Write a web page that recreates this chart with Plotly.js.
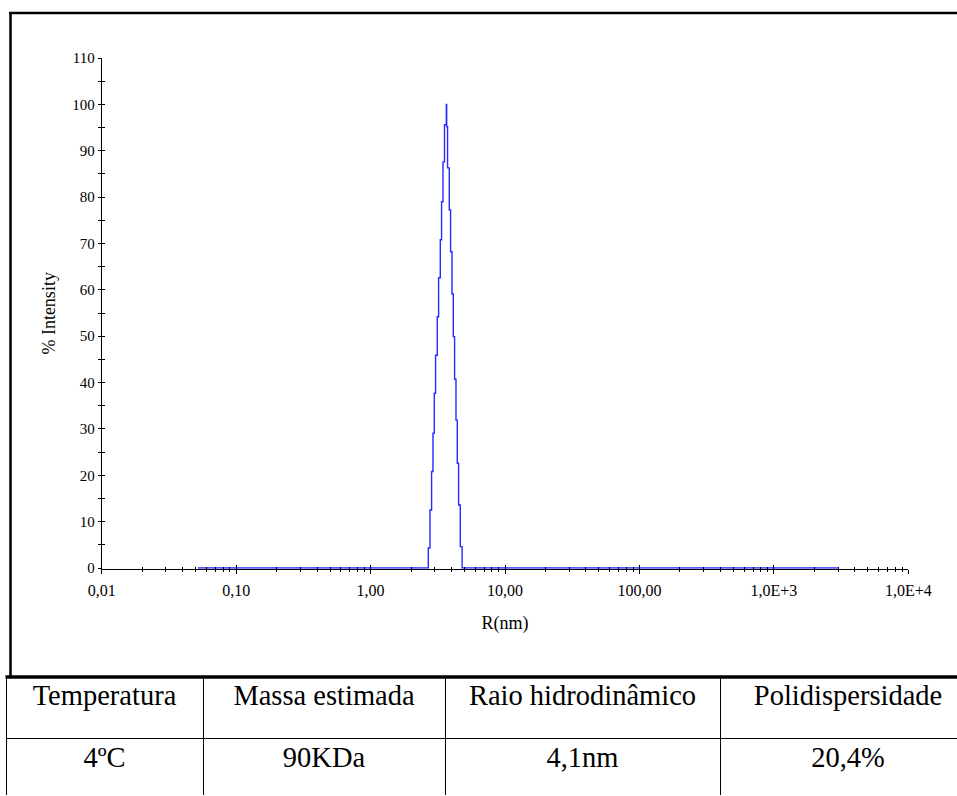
<!DOCTYPE html>
<html>
<head>
<meta charset="utf-8">
<script src="https://cdn.plot.ly/plotly-3.0.1.min.js"></script>
<style>
html, body { margin:0; padding:0; overflow:hidden; background:#fff; width:957px; height:796px; }
#chart { width:990px; height:796px; }
</style>
</head>
<body>
<div id="chart"></div>
<script>
// ---- data ----
const radiusNm = [0.052, 2.688, 2.767, 2.844, 2.912, 2.978, 3.045, 3.135, 3.206, 3.301, 3.375, 3.457, 3.547, 3.658,
                  3.683, 3.740, 3.851, 3.937, 4.034, 4.124, 4.217, 4.319, 4.417, 4.517, 4.650, 4.796, 3035];
const intensityPct = [0, 4.3, 12.5, 20.8, 29.1, 37.7, 45.9, 54.2, 62.6, 70.8, 79.0, 87.6, 95.6, 100,
                      95.2, 86.3, 77.2, 68.2, 59.1, 49.9, 40.7, 31.9, 22.6, 13.6, 4.6, 0, 0];

const xTickVals = [0.01, 0.1, 1, 10, 100, 1000, 10000];
const xTickText = ['0,01', '0,10', '1,00', '10,00', '100,00', '1,0E+3', '1,0E+4'];

const tableHeaders = ['Temperatura', 'Massa estimada', 'Raio hidrodinâmico', 'Polidispersidade'];
const tableValues = ['4ºC', '90KDa', '4,1nm', '20,4%'];

// ---- layout helpers ----
const W = 990, H = 796;
const px = v => v / W;
const py = v => 1 - v / H;

const minorVals = [];
for (let e = -2; e < 4; e++) for (let m = 2; m <= 9; m++) minorVals.push(m * Math.pow(10, e));

const serif = '"Liberation Serif", "Times New Roman", Times, serif';
const lineColor = 'rgb(40,40,255)';

const yMin = -0.15, yMax = 110;
const pxPerUnit = (568 - 58) / 110;
const xDomain = [px(101.7), px(908.3)];
const yDomain = [py(568 - yMin * pxPerUnit), py(58)];

const traces = [
  {
    type: 'scatter', mode: 'lines', x: radiusNm, y: intensityPct,
    line: { shape: 'hv', color: lineColor, width: 1.4 },
    xaxis: 'x', yaxis: 'y', hoverinfo: 'skip', showlegend: false
  },
  {
    type: 'scatter', mode: 'lines', x: radiusNm, y: intensityPct,
    line: { width: 0 }, opacity: 0,
    xaxis: 'x2', yaxis: 'y2', hoverinfo: 'skip', showlegend: false
  },
  {
    type: 'table',
    domain: { x: [px(6), px(976)], y: [0, 1 - 676 / H] },
    columnwidth: [197, 242, 275, 256],
    header: {
      values: tableHeaders.map(h => [h]),
      height: 62, align: 'center',
      line: { color: 'black', width: 1 },
      fill: { color: 'white' },
      font: { family: serif, size: 28.5, color: 'black' }
    },
    cells: {
      values: tableValues.map(v => [v]),
      height: 58, align: 'center',
      line: { color: 'black', width: 1 },
      fill: { color: 'white' },
      font: { family: serif, size: 28.5, color: 'black' }
    }
  }
];

const layout = {
  width: W, height: H,
  margin: { l: 0, r: 0, t: 0, b: 0 },
  paper_bgcolor: 'white', plot_bgcolor: 'rgba(0,0,0,0)',
  font: { family: serif, color: 'black' },
  showlegend: false,
  xaxis: {
    type: 'log', range: [-2, 4], domain: xDomain, anchor: 'y',
    showline: true, linecolor: 'black', linewidth: 1,
    showgrid: false, zeroline: false, layer: 'below traces',
    ticks: 'outside', ticklen: 4, tickwidth: 1, tickcolor: 'black',
    tickmode: 'array', tickvals: xTickVals, ticktext: xTickText,
    tickfont: { family: serif, size: 16, color: 'black' }, ticklabelstandoff: 3,
    minor: { tickmode: 'array', tickvals: minorVals, ticks: 'outside', ticklen: 2, tickwidth: 1, tickcolor: 'black', showgrid: false },
    title: { text: 'R(nm)', font: { family: serif, size: 18, color: 'black' }, standoff: 18 }
  },
  yaxis: {
    range: [yMin, yMax], domain: yDomain, anchor: 'x',
    showline: true, linecolor: 'black', linewidth: 1,
    showgrid: false, zeroline: false, layer: 'below traces',
    ticks: 'outside', ticklen: 3, tickwidth: 1, tickcolor: 'black',
    tickmode: 'linear', tick0: 0, dtick: 10,
    tickfont: { family: serif, size: 15, color: 'black' },
    minor: { tick0: 0, dtick: 5, ticks: 'outside', ticklen: 3, tickwidth: 1, tickcolor: 'black', showgrid: false },
    title: { text: '% Intensity', font: { family: serif, size: 18, color: 'black' }, standoff: 11 }
  },
  xaxis2: {
    type: 'log', range: [-2, 4], domain: xDomain, overlaying: 'x', anchor: 'y2', side: 'bottom',
    showline: false, showgrid: false, zeroline: false, showticklabels: false,
    ticks: 'inside', ticklen: 4, tickwidth: 1, tickcolor: 'black',
    tickmode: 'array', tickvals: xTickVals,
    minor: { tickmode: 'array', tickvals: minorVals, ticks: 'inside', ticklen: 2, tickwidth: 1, tickcolor: 'black', showgrid: false }
  },
  yaxis2: {
    range: [yMin, yMax], domain: yDomain, overlaying: 'y', anchor: 'x2', side: 'left',
    showline: false, showgrid: false, zeroline: false, showticklabels: false,
    ticks: 'inside', ticklen: 3, tickwidth: 1, tickcolor: 'black',
    tickmode: 'linear', tick0: 0, dtick: 10,
    minor: { tick0: 0, dtick: 5, ticks: 'inside', ticklen: 3, tickwidth: 1, tickcolor: 'black', showgrid: false }
  },
  shapes: [
    { type: 'line', xref: 'paper', yref: 'paper', x0: px(10.5), x1: px(10.5), y0: py(12), y1: py(677), line: { color: 'black', width: 2.5 } },
    { type: 'line', xref: 'paper', yref: 'paper', x0: px(9), x1: 1, y0: py(13), y1: py(13), line: { color: 'black', width: 2.5 } },
    { type: 'line', xref: 'paper', yref: 'paper', x0: px(5.5), x1: 1, y0: py(677), y1: py(677), line: { color: 'black', width: 3.5 } }
  ]
};

Plotly.newPlot('chart', traces, layout, { displayModeBar: false, staticPlot: true });
</script>
</body>
</html>
